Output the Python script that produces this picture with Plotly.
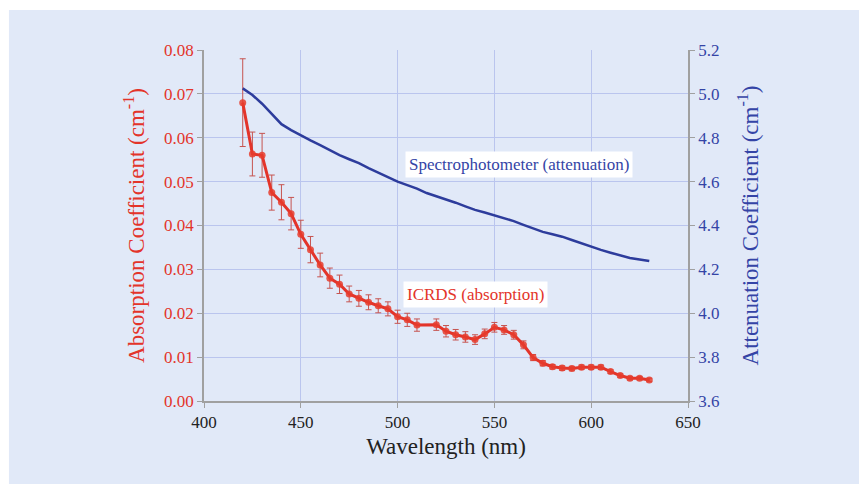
import plotly.graph_objects as go

# ICRDS absorption (left axis)
icrds_wl = [420, 425, 430, 435, 440, 445, 450, 455, 460, 465, 470, 475, 480, 485,
            490, 495, 500, 505, 510, 520, 525, 530, 535, 540, 545, 550, 555, 560,
            565, 570, 575, 580, 585, 590, 595, 600, 605, 610, 615, 620, 625, 630]
icrds_abs = [0.0680, 0.0563, 0.0560, 0.0475, 0.0453, 0.0427, 0.0380, 0.0345, 0.0310,
             0.0280, 0.0266, 0.0244, 0.0234, 0.0225, 0.0217, 0.0210, 0.0192, 0.0185,
             0.0173, 0.0174, 0.0159, 0.0151, 0.0146, 0.0140, 0.0153, 0.0168, 0.0162,
             0.0151, 0.0128, 0.0099, 0.0086, 0.0078, 0.0075, 0.0074, 0.0077, 0.0077,
             0.0077, 0.0067, 0.0058, 0.0052, 0.0052, 0.0048]
icrds_err = [0.0100, 0.0050, 0.0050, 0.0040, 0.0040, 0.0037, 0.0032, 0.0030, 0.0027,
             0.0023, 0.0021, 0.0018, 0.0018, 0.0017, 0.0016, 0.0016, 0.0015, 0.0015,
             0.0014, 0.0013, 0.0013, 0.0012, 0.0012, 0.0011, 0.0011, 0.0011, 0.0010,
             0.0010, 0.0009, 0.0007, 0.0006, 0.0005, 0.0005, 0.0005, 0.0005, 0.0005,
             0.0005, 0.0004, 0.0004, 0.0004, 0.0004, 0.0004]

# spectrophotometer attenuation (right axis)
spec_wl = list(range(420, 631, 5))
spec_att = [5.025, 4.995, 4.955, 4.910, 4.862, 4.835, 4.810, 4.788, 4.766, 4.743,
            4.721, 4.702, 4.684, 4.662, 4.640, 4.621, 4.600, 4.585, 4.568, 4.548,
            4.534, 4.519, 4.504, 4.487, 4.471, 4.459, 4.447, 4.433, 4.420, 4.403,
            4.387, 4.371, 4.360, 4.349, 4.334, 4.318, 4.303, 4.289, 4.276, 4.264,
            4.252, 4.245, 4.238]

RED = "#E3342A"
BLUE = "#2D3C9C"
BG = "#E1E9F8"
GRID = "#BAC5EE"
FONT = "Liberation Serif, Times New Roman, serif"

fig = go.Figure()
fig.add_trace(go.Scatter(
    x=spec_wl, y=spec_att, yaxis="y2", mode="lines",
    line=dict(color=BLUE, width=2.5), showlegend=False))
fig.add_trace(go.Scatter(
    x=icrds_wl, y=icrds_abs, mode="lines+markers",
    line=dict(color=RED, width=3),
    marker=dict(color="rgba(230,60,45,0.85)", size=7),
    error_y=dict(type="data", array=icrds_err, color="#C65450", thickness=1, width=3),
    showlegend=False))

fig.add_annotation(x=562.5, y=0.054, xref="x", yref="y", text="Spectrophotometer (attenuation)",
                   showarrow=False, bgcolor="white", font=dict(family=FONT, size=17, color="#3444A6"),
                   borderpad=3)
fig.add_annotation(x=540, y=0.0242, xref="x", yref="y", text="ICRDS (absorption)",
                   showarrow=False, bgcolor="white", font=dict(family=FONT, size=17, color=RED),
                   borderpad=3)

# light blue panel behind everything
fig.add_shape(type="rect", xref="paper", yref="paper", x0=-0.403, x1=1.4, y0=-0.3, y1=1.114,
              fillcolor=BG, line=dict(width=0), layer="below")

# the page body adds an 8px offset, margins compensate for it
fig.update_layout(
    width=867, height=484,
    margin=dict(l=196, r=187, t=42, b=91),
    paper_bgcolor="white", plot_bgcolor=BG,
    font=dict(family=FONT),
    xaxis=dict(range=[400, 650], dtick=50, showgrid=True, gridcolor=GRID, gridwidth=1,
               showline=True, linecolor="#A0A0A0", linewidth=1.5, ticks="outside",
               ticklen=5, tickcolor="#A0A0A0", zeroline=False,
               tickfont=dict(family=FONT, size=17, color="#222222"),
               title=dict(text="Wavelength (nm)", font=dict(family=FONT, size=23, color="#222222"),
                          standoff=7)),
    yaxis=dict(range=[0, 0.08], dtick=0.01, tickformat=".2f", showgrid=True, gridcolor=GRID,
               showline=True, linecolor="#A0A0A0", linewidth=1.5, ticks="outside",
               ticklen=5, tickcolor="#A0A0A0", zeroline=False,
               tickfont=dict(family=FONT, size=17, color=RED),
               title=dict(text="Absorption Coefficient (cm<sup>-1</sup>)",
                          font=dict(family=FONT, size=23, color=RED), standoff=13)),
    yaxis2=dict(range=[3.6, 5.2], dtick=0.2, tickformat=".1f", overlaying="y", side="right",
                showgrid=False, showline=True, linecolor="#A0A0A0", linewidth=1.5,
                ticks="outside", ticklen=5, tickcolor="#A0A0A0", zeroline=False,
                tickfont=dict(family=FONT, size=17, color="#3444A6"),
                title=dict(text="Attenuation Coefficient (cm<sup>-1</sup>)",
                           font=dict(family=FONT, size=23, color="#3444A6"), standoff=23)),
)

fig.write_html("out.html")
